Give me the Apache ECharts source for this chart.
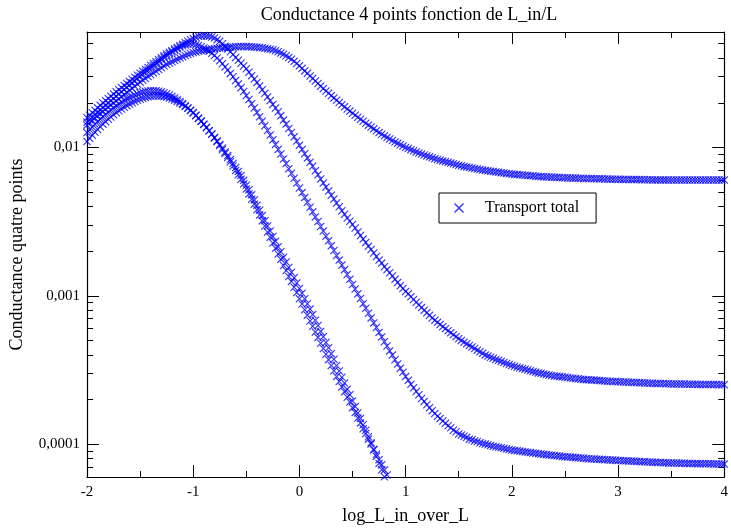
<!DOCTYPE html>
<html><head><meta charset="utf-8">
<script src="https://cdn.jsdelivr.net/npm/echarts@6/dist/echarts.min.js"></script>
<style>html,body{margin:0;padding:0;background:#fff}#c{width:731px;height:530px}</style>
</head><body><div id="c"></div><script>
// x values: log_L_in_over_L
const logLinOverL = [
-2,-1.975,-1.95,-1.925,-1.9,-1.875,-1.85,-1.825,-1.8,-1.775,-1.75,-1.725,-1.7,-1.675,-1.65,-1.625,-1.6,-1.575,-1.55,-1.525,
-1.5,-1.475,-1.45,-1.425,-1.4,-1.375,-1.35,-1.325,-1.3,-1.275,-1.25,-1.225,-1.2,-1.175,-1.15,-1.125,-1.1,-1.075,-1.05,-1.025,
-1,-0.975,-0.95,-0.925,-0.9,-0.875,-0.85,-0.825,-0.8,-0.775,-0.75,-0.725,-0.7,-0.675,-0.65,-0.625,-0.6,-0.575,-0.55,-0.525,
-0.5,-0.475,-0.45,-0.425,-0.4,-0.375,-0.35,-0.325,-0.3,-0.275,-0.25,-0.225,-0.2,-0.175,-0.15,-0.125,-0.1,-0.075,-0.05,-0.025,
0,0.025,0.05,0.075,0.1,0.125,0.15,0.175,0.2,0.225,0.25,0.275,0.3,0.325,0.35,0.375,0.4,0.425,0.45,0.475,
0.5,0.525,0.55,0.575,0.6,0.625,0.65,0.675,0.7,0.725,0.75,0.775,0.8,0.825,0.85,0.875,0.9,0.925,0.95,0.975,
1,1.025,1.05,1.075,1.1,1.125,1.15,1.175,1.2,1.225,1.25,1.275,1.3,1.325,1.35,1.375,1.4,1.425,1.45,1.475,
1.5,1.525,1.55,1.575,1.6,1.625,1.65,1.675,1.7,1.725,1.75,1.775,1.8,1.825,1.85,1.875,1.9,1.925,1.95,1.975,
2,2.025,2.05,2.075,2.1,2.125,2.15,2.175,2.2,2.225,2.25,2.275,2.3,2.325,2.35,2.375,2.4,2.425,2.45,2.475,
2.5,2.525,2.55,2.575,2.6,2.625,2.65,2.675,2.7,2.725,2.75,2.775,2.8,2.825,2.85,2.875,2.9,2.925,2.95,2.975,
3,3.025,3.05,3.075,3.1,3.125,3.15,3.175,3.2,3.225,3.25,3.275,3.3,3.325,3.35,3.375,3.4,3.425,3.45,3.475,
3.5,3.525,3.55,3.575,3.6,3.625,3.65,3.675,3.7,3.725,3.75,3.775,3.8,3.825,3.85,3.875,3.9,3.925,3.95,3.975,
4];

// curve with plateau ~0.006
const curveA = [
0.01413,0.01467,0.01521,0.01577,0.01633,0.01691,0.0175,0.0181,0.01871,0.01933,0.01995,0.02061,0.02128,0.02199,0.0227,0.02345,0.02421,0.02501,0.02582,0.02668,
0.02754,0.02835,0.02917,0.03003,0.0309,0.03178,0.03266,0.03354,0.03443,0.03537,0.03631,0.03707,0.03784,0.0386,0.03936,0.04014,0.04093,0.04164,0.04236,0.043,
0.04365,0.04405,0.04446,0.04482,0.04519,0.0455,0.04581,0.04607,0.04634,0.04655,0.04677,0.04693,0.0471,0.04726,0.04742,0.04753,0.04764,0.04775,0.04786,0.04786,
0.04786,0.0478,0.04775,0.04758,0.04742,0.0472,0.04699,0.04666,0.04634,0.04592,0.0455,0.04483,0.04416,0.04331,0.04246,0.04146,0.04046,0.03928,0.03811,0.0368,
0.03548,0.03414,0.03281,0.03157,0.03034,0.02919,0.02805,0.02696,0.02588,0.02493,0.02399,0.02316,0.02234,0.02157,0.0208,0.0201,0.01941,0.01878,0.01816,0.01757,
0.01698,0.01647,0.01596,0.01548,0.015,0.01456,0.01413,0.01373,0.01334,0.01296,0.01259,0.01228,0.01197,0.01168,0.0114,0.01114,0.01089,0.01065,0.01042,0.01021,
0.01,0.00983,0.00966,0.0095,0.00933,0.00918,0.00904,0.0089,0.00877,0.00864,0.00851,0.0084,0.0083,0.0082,0.00811,0.00802,0.00793,0.00784,0.00776,0.00767,
0.00759,0.00752,0.00745,0.00739,0.00733,0.00727,0.00721,0.00715,0.0071,0.00705,0.007,0.00696,0.00692,0.00688,0.00684,0.0068,0.00676,0.00672,0.00668,0.00664,
0.00661,0.00658,0.00656,0.00654,0.00652,0.0065,0.00647,0.00645,0.00643,0.0064,0.00638,0.00636,0.00635,0.00633,0.00632,0.00631,0.0063,0.00628,0.00627,0.00625,
0.00624,0.00623,0.00622,0.00621,0.00621,0.0062,0.00619,0.00618,0.00618,0.00617,0.00617,0.00616,0.00615,0.00614,0.00614,0.00613,0.00612,0.00611,0.00611,0.0061,
0.0061,0.00609,0.00608,0.00608,0.00608,0.00607,0.00607,0.00607,0.00607,0.00606,0.00605,0.00605,0.00605,0.00604,0.00604,0.00604,0.00604,0.00604,0.00604,0.00603,
0.00603,0.00603,0.00603,0.00603,0.00603,0.00603,0.00603,0.00603,0.00603,0.00603,0.00603,0.00603,0.00603,0.00603,0.00603,0.00603,0.00603,0.00603,0.00603,0.00603,
0.00603];

// curve with plateau ~0.00025
const curveB = [
0.01585,0.0165,0.01714,0.01782,0.01849,0.01922,0.01995,0.02067,0.02138,0.02215,0.02291,0.0237,0.02449,0.02531,0.02612,0.02699,0.02786,0.02879,0.02972,0.03067,
0.03162,0.0326,0.03357,0.03461,0.03565,0.03675,0.03784,0.03901,0.04018,0.04142,0.04266,0.04377,0.04487,0.04604,0.04721,0.04844,0.04966,0.05083,0.052,0.05317,
0.05433,0.05528,0.05623,0.05649,0.05675,0.05649,0.05623,0.05547,0.0547,0.05329,0.05188,0.04998,0.04808,0.04612,0.04416,0.04231,0.04046,0.03872,0.03698,0.03543,
0.03388,0.03218,0.03048,0.02892,0.02735,0.02592,0.02449,0.02319,0.02188,0.02069,0.0195,0.01844,0.01738,0.01633,0.01528,0.01436,0.01343,0.01261,0.01178,0.01106,
0.01033,0.0097,0.00906,0.0085,0.00794,0.00746,0.00697,0.00655,0.00612,0.00576,0.0054,0.00508,0.00476,0.00449,0.00422,0.00398,0.00374,0.00354,0.00334,0.00318,
0.00302,0.00286,0.00269,0.00255,0.00241,0.00229,0.00216,0.00205,0.00194,0.00184,0.00174,0.00166,0.00157,0.0015,0.00143,0.00136,0.00129,0.00123,0.00117,0.00112,
0.00107,0.00103,0.000984,0.000944,0.000904,0.000868,0.000832,0.0008,0.000767,0.000738,0.000708,0.000685,0.000662,0.000641,0.000619,0.0006,0.000581,0.000564,0.000546,0.00053,
0.000513,0.0005,0.000486,0.000474,0.000462,0.000452,0.000441,0.00043,0.000419,0.000409,0.000398,0.000392,0.000385,0.000379,0.000372,0.000367,0.000361,0.000355,0.000349,0.000344,
0.000339,0.000335,0.00033,0.000327,0.000323,0.00032,0.000316,0.000312,0.000308,0.000305,0.000302,0.0003,0.000297,0.000295,0.000292,0.00029,0.000288,0.000287,0.000285,0.000284,
0.000282,0.000281,0.000279,0.000278,0.000277,0.000276,0.000274,0.000273,0.000272,0.000271,0.00027,0.00027,0.000269,0.000268,0.000267,0.000266,0.000265,0.000265,0.000264,0.000264,
0.000263,0.000263,0.000262,0.000262,0.000261,0.000261,0.00026,0.00026,0.000259,0.000259,0.000258,0.000258,0.000257,0.000257,0.000256,0.000256,0.000256,0.000256,0.000255,0.000255,
0.000254,0.000254,0.000254,0.000254,0.000254,0.000254,0.000253,0.000253,0.000253,0.000253,0.000252,0.000252,0.000252,0.000252,0.000252,0.000252,0.000252,0.000252,0.000251,0.000251,
0.000251];

// curve with plateau ~0.000074
const curveC = [
0.01479,0.01538,0.01596,0.01659,0.01722,0.01788,0.01854,0.01923,0.01991,0.02065,0.02138,0.02215,0.02291,0.02373,0.02455,0.02543,0.0263,0.02724,0.02818,0.02919,
0.0302,0.03121,0.03221,0.03329,0.03436,0.0355,0.03664,0.03786,0.03908,0.04039,0.04169,0.04288,0.04406,0.0452,0.04634,0.04738,0.04842,0.0491,0.04977,0.0501,
0.04977,0.04926,0.04875,0.04776,0.04677,0.04562,0.04446,0.04308,0.04169,0.04008,0.03846,0.03669,0.03491,0.03323,0.03155,0.02993,0.02831,0.0268,0.02529,0.02384,
0.02239,0.02104,0.01968,0.01845,0.01722,0.01611,0.015,0.014,0.013,0.01213,0.01125,0.01048,0.0097,0.00903,0.00836,0.00778,0.00719,0.00669,0.00619,0.00576,
0.00533,0.00496,0.00459,0.00427,0.00395,0.00368,0.0034,0.00317,0.00293,0.00273,0.00252,0.00235,0.00217,0.00202,0.00187,0.00174,0.00161,0.0015,0.00139,0.00129,
0.00119,0.00111,0.00103,0.000958,0.000885,0.000824,0.000762,0.000709,0.000656,0.000611,0.000566,0.000528,0.00049,0.000458,0.000425,0.000398,0.00037,0.000347,0.000324,0.000305,
0.000285,0.000269,0.000253,0.00024,0.000226,0.000215,0.000203,0.000194,0.000184,0.000176,0.000168,0.000161,0.000154,0.000149,0.000143,0.000138,0.000133,0.000129,0.000124,0.000121,
0.000117,0.000115,0.000113,0.000111,0.000108,0.000107,0.000105,0.000104,0.000102,0.000101,0.0001,0.0000989,0.0000977,0.0000968,0.0000959,0.0000952,0.0000944,0.0000936,0.0000927,0.000092,
0.0000912,0.0000907,0.0000902,0.0000897,0.0000891,0.0000886,0.0000881,0.0000876,0.0000871,0.0000866,0.0000861,0.0000857,0.0000853,0.0000849,0.0000845,0.0000842,0.0000838,0.0000834,0.000083,0.0000826,
0.0000822,0.000082,0.0000817,0.0000814,0.0000811,0.0000808,0.0000805,0.0000803,0.00008,0.0000797,0.0000794,0.0000793,0.0000791,0.0000789,0.0000787,0.0000785,0.0000783,0.0000782,0.000078,0.0000778,
0.0000776,0.0000775,0.0000773,0.0000771,0.0000769,0.0000768,0.0000766,0.0000764,0.0000762,0.0000761,0.0000759,0.0000758,0.0000756,0.0000755,0.0000753,0.0000752,0.0000751,0.000075,0.0000748,0.0000747,
0.0000746,0.0000746,0.0000745,0.0000744,0.0000743,0.0000742,0.0000741,0.0000741,0.000074,0.0000739,0.0000738,0.0000738,0.0000737,0.0000737,0.0000736,0.0000736,0.0000735,0.0000735,0.0000734,0.0000734,
0.0000733];

// two steep curves (they leave the frame at the bottom)
const curveD = [
0.01259,0.01317,0.01374,0.01434,0.01493,0.01554,0.01614,0.01674,0.01734,0.01792,0.01849,0.01906,0.01963,0.02017,0.0207,0.02119,0.02168,0.02214,0.02259,0.02296,
0.02333,0.02361,0.02388,0.02402,0.02415,0.02413,0.0241,0.02391,0.02371,0.02336,0.02301,0.02255,0.02208,0.02154,0.02099,0.02038,0.01977,0.01911,0.01845,0.01776,
0.01706,0.01637,0.01567,0.01498,0.01429,0.01362,0.01294,0.01231,0.01167,0.01107,0.01047,0.0099,0.00933,0.00881,0.00828,0.0078,0.00731,0.00689,0.00646,0.00601,
0.00556,0.00518,0.00479,0.00443,0.00407,0.00377,0.00347,0.00321,0.00295,0.00273,0.00251,0.00233,0.00214,0.00198,0.00182,0.00169,0.00155,0.00144,0.00132,0.00122,
0.00112,0.00104,0.000955,0.000884,0.000813,0.000749,0.000684,0.00063,0.000575,0.00053,0.000484,0.000446,0.000407,0.000373,0.000339,0.000311,0.000282,0.000258,0.000234,0.000215,
0.000195,0.000179,0.000162,0.000149,0.000135,0.000124,0.000112,0.000102,0.0000912,0.0000827,0.0000741,0.0000672,0.0000603,0.0000547,0.000049];

const curveE = [
0.01096,0.01152,0.01208,0.01265,0.01321,0.01378,0.01435,0.01492,0.01549,0.01605,0.0166,0.01713,0.01766,0.01816,0.01866,0.01913,0.01959,0.02001,0.02042,0.02078,
0.02113,0.02143,0.02173,0.02193,0.02213,0.02221,0.02228,0.02223,0.02218,0.02201,0.02183,0.02153,0.02123,0.02083,0.02042,0.01994,0.01945,0.01891,0.01837,0.01778,
0.01718,0.01648,0.01578,0.01507,0.01435,0.01365,0.01294,0.01227,0.01159,0.01095,0.0103,0.00965,0.0091,0.00855,0.008,0.0075,0.007,0.00655,0.0061,0.00568,
0.00525,0.00486,0.00447,0.00414,0.0038,0.0035,0.0032,0.00295,0.00269,0.00248,0.00227,0.00209,0.00191,0.00176,0.0016,0.00148,0.00135,0.00125,0.00114,0.00105,
0.000955,0.00088,0.000804,0.00074,0.000676,0.000623,0.000569,0.000524,0.000479,0.000441,0.000403,0.000371,0.000339,0.000312,0.000285,0.000264,0.000243,0.000225,0.000207,0.000192,
0.000176,0.000163,0.00015,0.000139,0.000127,0.000118,0.000108,0.0001,0.0000923,0.0000854,0.0000785,0.0000727,0.0000668,0.0000619,0.0000569];

const yMajorTicks = [0.0001, 0.001, 0.01];
const yMinorTicks = [0.00007,0.00008,0.00009,0.0002,0.0003,0.0004,0.0005,0.0006,0.0007,0.0008,0.0009,
  0.002,0.003,0.004,0.005,0.006,0.007,0.008,0.009,0.02,0.03,0.04,0.05];
const seriesName = 'Transport total';

const FONT = '"Liberation Serif", "Times New Roman", serif';
const crossPath = 'path://M0,1L1,0L5,4L9,0L10,1L6,5L10,9L9,10L5,6L1,10L0,9L4,5Z';
const BLUE = '#0000ff';

function pairs(vals) { return vals.map((v, i) => [logLinOverL[i], v]); }
function fmtY(v) {
  const e = Math.round(Math.log10(v));
  if (Math.abs(Math.log10(v) - e) > 1e-6) return '';
  return (Math.pow(10, e)).toFixed(Math.max(0, -e)).replace('.', ',');
}

const chart = echarts.init(document.getElementById('c'), null, {renderer: 'canvas'});
const xCommon = {
  type: 'value', min: -2, max: 4, interval: 1,
  axisLine: {show: true, onZero: false, lineStyle: {color: '#000', width: 1.2}},
  splitLine: {show: false},
  axisTick: {show: true, inside: true, length: 12, lineStyle: {color: '#000', width: 1}},
  minorTick: {show: true, splitNumber: 2, length: 6, lineStyle: {color: '#000', width: 1}}
};
const yCommon = {
  type: 'log', logBase: 10, min: 0.00006, max: 0.06,
  splitLine: {show: false},
  minorTick: {show: false}
};
const frameLine = {show: true, onZero: false, lineStyle: {color: '#000', width: 1.2}};
const noLine = {show: false, onZero: false};

const option = {
  animation: false,
  backgroundColor: '#fff',
  title: {
    text: 'Conductance 4 points fonction de L_in/L',
    left: 404, textAlign: 'center', top: 1,
    textStyle: {fontFamily: FONT, fontSize: 18, fontWeight: 'normal', color: '#000'}
  },
  legend: {
    data: [seriesName], left: 439, top: 193,
    padding: [7, 17, 7, 15], itemWidth: 10, itemHeight: 10,
    icon: crossPath,
    borderColor: '#000', borderWidth: 1, backgroundColor: '#fff',
    textStyle: {fontFamily: FONT, fontSize: 16, color: '#000', padding: [0, 0, 0, 16]},
    selectedMode: false
  },
  grid: {left: 87, right: 2, top: 32, bottom: 48, containLabel: false},
  xAxis: [
    Object.assign({}, xCommon, {
      position: 'bottom',
      name: 'log_L_in_over_L', nameLocation: 'middle', nameGap: 30,
      nameTextStyle: {fontFamily: FONT, fontSize: 18, color: '#000'},
      axisLabel: {show: true, margin: 8, fontFamily: FONT, fontSize: 15, color: '#000',
        formatter: v => String(Math.round(v))}
    }),
    Object.assign({}, xCommon, {position: 'top', axisLabel: {show: false}})
  ],
  yAxis: [
    Object.assign({}, yCommon, {
      position: 'left', axisLine: frameLine,
      name: 'Conductance quatre points', nameLocation: 'middle', nameGap: 61,
      nameTextStyle: {fontFamily: FONT, fontSize: 18, color: '#000'},
      axisTick: {show: true, inside: true, length: 12, customValues: yMajorTicks, lineStyle: {color: '#000'}},
      axisLabel: {show: true, margin: 7, customValues: yMajorTicks, fontFamily: FONT, fontSize: 15, color: '#000', formatter: fmtY}
    }),
    Object.assign({}, yCommon, {
      position: 'left', axisLine: noLine,
      axisTick: {show: true, inside: true, length: 6, customValues: yMinorTicks, lineStyle: {color: '#000'}},
      axisLabel: {show: false}
    }),
    Object.assign({}, yCommon, {
      position: 'right', axisLine: frameLine,
      axisTick: {show: true, inside: true, length: 12, customValues: yMajorTicks, lineStyle: {color: '#000'}},
      axisLabel: {show: false}
    }),
    Object.assign({}, yCommon, {
      position: 'right', axisLine: noLine,
      axisTick: {show: true, inside: true, length: 6, customValues: yMinorTicks, lineStyle: {color: '#000'}},
      axisLabel: {show: false}
    })
  ],
  series: [curveA, curveB, curveC, curveD, curveE].map(vals => ({
    name: seriesName, type: 'scatter', xAxisIndex: 0, yAxisIndex: 0,
    data: pairs(vals), symbol: crossPath, symbolSize: 8,
    itemStyle: {color: BLUE}, silent: true, clip: true,
    emphasis: {disabled: true}
  }))
};
chart.setOption(option);
</script></body></html>
